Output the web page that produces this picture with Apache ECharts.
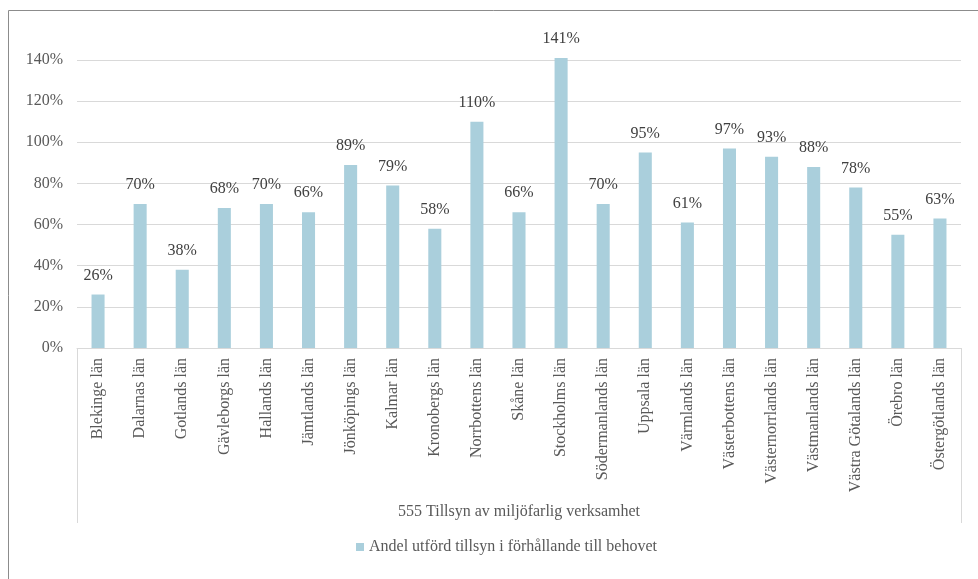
<!DOCTYPE html>
<html>
<head>
<meta charset="utf-8">
<script src="https://cdn.jsdelivr.net/npm/echarts@6/dist/echarts.min.js"></script>
<style>
html,body{margin:0;padding:0;background:#fff;}
#chart{width:978px;height:579px;}
</style>
</head>
<body>
<div id="chart"></div>
<script>
const categories = ["Blekinge län","Dalarnas län","Gotlands län","Gävleborgs län","Hallands län","Jämtlands län","Jönköpings län","Kalmar län","Kronobergs län","Norrbottens län","Skåne län","Stockholms län","Södermanlands län","Uppsala län","Värmlands län","Västerbottens län","Västernorrlands län","Västmanlands län","Västra Götalands län","Örebro län","Östergötlands län"];
const values = [26,70,38,68,70,66,89,79,58,110,66,141,70,95,61,97,93,88,78,55,63];
const groupLabel = ["555 Tillsyn av miljöfarlig verksamhet"];
const seriesName = "Andel utförd tillsyn i förhållande till behovet";
const yTicks = {min:0, max:140, interval:20};

const font = "'Liberation Serif','Times New Roman',serif";
const fs = 16;
const chart = echarts.init(document.getElementById('chart'));
chart.setOption({
  animation:false,
  textStyle:{fontFamily:font},
  graphic:[{type:'rect',shape:{x:8.5,y:10.5,width:1000,height:1000},style:{fill:'none',stroke:'#8c8c8c',lineWidth:1},silent:true}],
  grid:{left:77,right:17,top:60,bottom:231,containLabel:false},
  legend:{bottom:19,left:351,icon:'rect',itemWidth:8,itemHeight:8,itemGap:6,
    textStyle:{fontFamily:font,fontSize:fs,color:'#595959'},data:[seriesName]},
  xAxis:[{
    type:'category',data:categories,position:'bottom',
    axisLine:{show:true,lineStyle:{color:'#D9D9D9',width:1}},
    axisTick:{show:false},
    axisLabel:{rotate:90,interval:0,margin:10,fontFamily:font,fontSize:fs,color:'#595959'}
  },{
    type:'category',data:groupLabel,position:'bottom',
    axisLine:{show:false},
    axisTick:{show:true,length:175,interval:0,lineStyle:{color:'#D9D9D9',width:1}},
    axisLabel:{margin:156,fontFamily:font,fontSize:fs,color:'#595959'}
  }],
  yAxis:{type:'value',min:yTicks.min,max:yTicks.max,interval:yTicks.interval,
    axisLine:{show:false},axisTick:{show:false},
    axisLabel:{formatter:'{value}%',margin:14,fontFamily:font,fontSize:fs,color:'#595959'},
    splitLine:{lineStyle:{color:'#D9D9D9',width:1}}
  },
  series:[{
    name:seriesName,type:'bar',data:values,xAxisIndex:0,barWidth:'31%',clip:false,
    itemStyle:{color:'#AACFDC'},
    label:{show:true,position:'top',distance:11,formatter:'{c}%',fontFamily:font,fontSize:fs,color:'#404040'}
  }]
});
</script>
</body>
</html>
